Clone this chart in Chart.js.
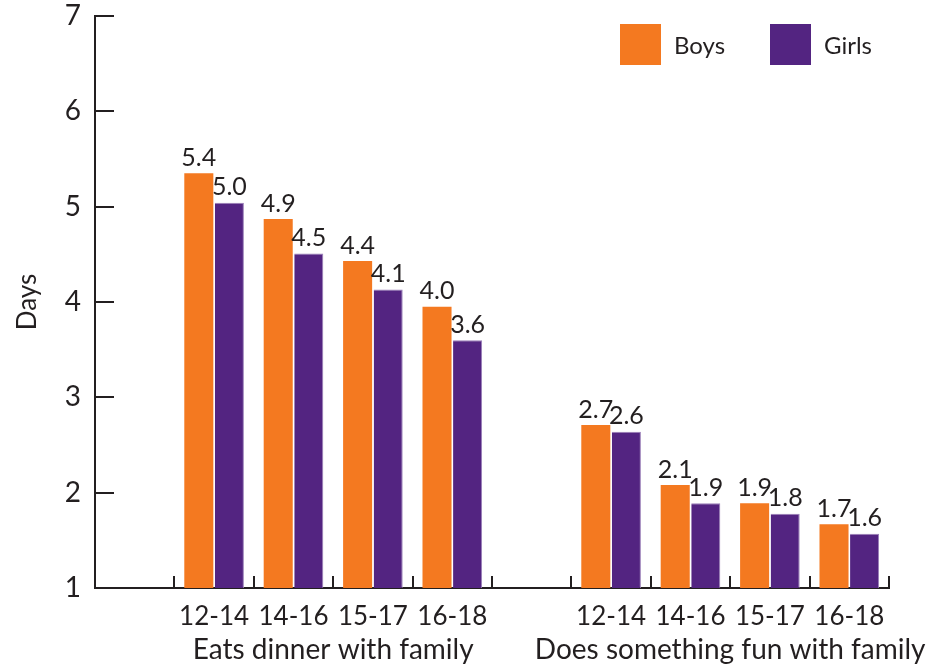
<!DOCTYPE html>
<html>
<head>
<meta charset="utf-8">
<script src="https://cdn.jsdelivr.net/npm/chart.js@4/dist/chart.umd.min.js"></script>
<style>
  html, body { margin: 0; padding: 0; background: #fff; }
  #wrap { width: 933px; height: 668px; }
</style>
</head>
<body>
<div id="wrap"><canvas id="daysChart"></canvas></div>
<script>
// empty slots at the start and between the two groups
const ageLabels = ["", "12-14", "14-16", "15-17", "16-18", "", "12-14", "14-16", "15-17", "16-18"];
const groupNames = ["Eats dinner with family", "Does something fun with family"];
const boysDays = [null, 5.35, 4.87, 4.43, 3.95, null, 2.71, 2.08, 1.89, 1.67];
const girlsDays = [null, 5.04, 4.51, 4.13, 3.6, null, 2.64, 1.89, 1.78, 1.57];
const boysText = ["", "5.4", "4.9", "4.4", "4.0", "", "2.7", "2.1", "1.9", "1.7"];
const girlsText = ["", "5.0", "4.5", "4.1", "3.6", "", "2.6", "1.9", "1.8", "1.6"];
const yTicks = [1, 2, 3, 4, 5, 6, 7];

const ink = "#231f20";
const font = "Lato, 'Open Sans', sans-serif";

// inward tick marks, bar value labels, legend and the group captions
const decorations = {
  id: "decorations",
  afterDraw(chart) {
    const ctx = chart.ctx;
    const x = chart.scales.x;
    const y = chart.scales.y;
    const area = chart.chartArea;
    ctx.save();
    ctx.strokeStyle = ink;
    ctx.lineWidth = 2;

    // y ticks pointing right
    yTicks.forEach((v) => {
      const py = Math.round(y.getPixelForValue(v));
      ctx.beginPath();
      ctx.moveTo(area.left, py);
      ctx.lineTo(area.left + 19, py);
      ctx.stroke();
    });

    // x ticks pointing up at slot boundaries
    const half = (x.getPixelForValue(1) - x.getPixelForValue(0)) / 2;
    for (let i = 0; i < ageLabels.length; i++) {
      const px = Math.round(x.getPixelForValue(i) + half);
      ctx.beginPath();
      ctx.moveTo(px, area.bottom);
      ctx.lineTo(px, area.bottom - 12);
      ctx.stroke();
    }

    // value labels over each bar
    ctx.fillStyle = ink;
    ctx.font = "25px " + font;
    ctx.textAlign = "center";
    ctx.textBaseline = "bottom";
    const texts = [boysText, girlsText];
    chart.data.datasets.forEach((ds, di) => {
      chart.getDatasetMeta(di).data.forEach((bar, i) => {
        if (ds.data[i] == null) return;
        ctx.fillText(texts[di][i], bar.x, bar.y - 3);
      });
    });

    // legend in the top right of the plot
    ctx.font = "24px " + font;
    ctx.textAlign = "left";
    ctx.textBaseline = "middle";
    const legendX = [area.right - 269, area.right - 119];
    chart.data.datasets.forEach((ds, di) => {
      ctx.fillStyle = ds.backgroundColor;
      ctx.fillRect(legendX[di], area.top + 8, 41, 41);
      ctx.fillStyle = ink;
      ctx.fillText(ds.label, legendX[di] + 54, area.top + 30);
    });

    // group captions under the age labels
    ctx.font = "28px " + font;
    ctx.textAlign = "center";
    ctx.textBaseline = "alphabetic";
    const g1 = (x.getPixelForValue(1) + x.getPixelForValue(4)) / 2;
    const g2 = (x.getPixelForValue(6) + x.getPixelForValue(9)) / 2;
    ctx.fillText(groupNames[0], g1, 659);
    ctx.fillText(groupNames[1], g2, 659);
    ctx.restore();
  },
};

const ctx = document.getElementById("daysChart").getContext("2d");
new Chart(ctx, {
  type: "bar",
  data: {
    labels: ageLabels,
    datasets: [
      {
        label: "Boys",
        data: boysDays,
        backgroundColor: "#f47920",
        borderWidth: 0,
      },
      {
        label: "Girls",
        data: girlsDays,
        backgroundColor: "#532481",
        borderColor: "#9a7fb8",
        borderWidth: { top: 1, right: 1, left: 0, bottom: 0 },
      },
    ],
  },
  plugins: [decorations],
  options: {
    responsive: true,
    maintainAspectRatio: false,
    animation: false,
    layout: { padding: { top: 16, right: 44, left: 0, bottom: 0 } },
    datasets: {
      bar: { categoryPercentage: 0.77, barPercentage: 0.95 },
    },
    plugins: {
      tooltip: { enabled: false },
      legend: { display: false },
    },
    scales: {
      x: {
        grid: { display: false },
        border: { display: true, color: ink, width: 2 },
        ticks: {
          color: ink,
          padding: 5,
          autoSkip: false,
          maxRotation: 0,
          font: { family: font, size: 26 },
        },
        afterFit: (s) => { s.height = 80; s.paddingLeft = 0; s.paddingRight = 0; },
      },
      y: {
        min: 1,
        max: 7,
        grid: { display: false },
        border: { display: true, color: ink, width: 2 },
        ticks: {
          stepSize: 1,
          color: ink,
          padding: 6,
          font: { family: font, size: 28 },
        },
        title: {
          display: true,
          text: "Days",
          color: ink,
          font: { family: font, size: 26 },
          padding: { top: 12, bottom: 0 },
        },
        afterFit: (s) => { s.width = 95; s.paddingTop = 0; s.paddingBottom = 0; },
      },
    },
  },
});
</script>
</body>
</html>
